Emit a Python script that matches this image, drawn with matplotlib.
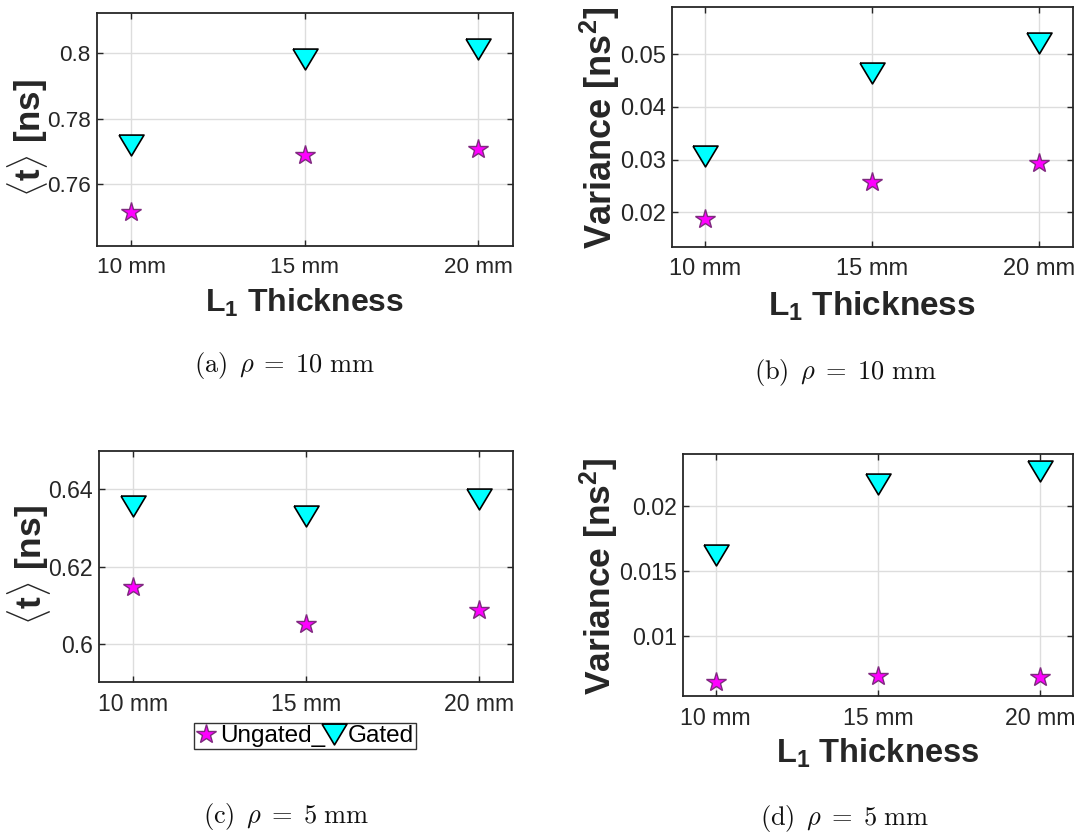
import matplotlib
matplotlib.use("Agg")
import matplotlib.pyplot as plt
from matplotlib.font_manager import FontProperties

plt.rcParams['font.family'] = ['Liberation Sans', 'DejaVu Sans']
plt.rcParams['mathtext.fontset'] = 'custom'
plt.rcParams['mathtext.rm'] = 'Liberation Sans'
plt.rcParams['mathtext.bf'] = 'Liberation Sans:bold'
plt.rcParams['mathtext.it'] = 'Liberation Sans:italic'

# ---------------- data ----------------
thickness = [10, 15, 20]
tick_labels = ['10 mm', '15 mm', '20 mm']

# (a) rho = 10 mm, mean time
a_ungated = [0.7515, 0.7689, 0.7709]
a_gated = [0.7719, 0.7982, 0.8012]
# (b) rho = 10 mm, variance
b_ungated = [0.0187, 0.0258, 0.0293]
b_gated = [0.0307, 0.0465, 0.0522]
# (c) rho = 5 mm, mean time
c_ungated = [0.6148, 0.6051, 0.6087]
c_gated = [0.6358, 0.6331, 0.6375]
# (d) rho = 5 mm, variance
d_ungated = [0.00643, 0.00694, 0.00686]
d_gated = [0.01623, 0.0217, 0.0227]

a_yticks = [0.76, 0.78, 0.80]
a_yticklabels = ['0.76', '0.78', '0.8']
b_yticks = [0.02, 0.03, 0.04, 0.05]
b_yticklabels = ['0.02', '0.03', '0.04', '0.05']
c_yticks = [0.60, 0.62, 0.64]
c_yticklabels = ['0.6', '0.62', '0.64']
d_yticks = [0.01, 0.015, 0.02]
d_yticklabels = ['0.01', '0.015', '0.02']

captions = [r'$\mathrm{(a)}\ \,\rho\;=\;10\ \mathrm{mm}$',
            r'$\mathrm{(b)}\ \,\rho\;=\;10\ \mathrm{mm}$',
            r'$\mathrm{(c)}\ \,\rho\;=\;5\ \mathrm{mm}$',
            r'$\mathrm{(d)}\ \,\rho\;=\;5\ \mathrm{mm}$']

legend_labels = ['Ungated_', 'Gated']

W, H = 1077, 832
fig = plt.figure(figsize=(W / 100, H / 100), dpi=100)


def ax_rect(l, t, r, b):
    return [l / W, 1 - b / H, (r - l) / W, (b - t) / H]


STAR_FC = '#FF00FF'
STAR_EC = '#7F2A7F'
TRI_FC = '#00FFFF'
AX_C = '#262626'
TRI = [(-1.2, 1.0), (1.2, 1.0), (0.0, -1.0), (-1.2, 1.0)]

panels = [
    dict(rect=ax_rect(96.8, 13.3, 513.1, 245.7), un=a_ungated, ga=a_gated,
         ylim=(0.7414, 0.812), yt=a_yticks, ytl=a_yticklabels,
         ylabel=r'$\langle$t$\rangle$ [ns]', xlabel=True, fs=16.2, xfs=23,
         ylx=27.6, yly=138, xly=311.5, cap=(285, 365)),
    dict(rect=ax_rect(671.8, 6.7, 1072.5, 246.7), un=b_ungated, ga=b_gated,
         ylim=(0.0135, 0.059), yt=b_yticks, ytl=b_yticklabels,
         ylabel=r'Variance [ns$^{\mathbf{2}}$]', xlabel=True, fs=17, xfs=24,
         ylx=600, yly=128, xly=316, cap=(845, 372)),
    dict(rect=ax_rect(98.8, 450.7, 513.1, 682.3), un=c_ungated, ga=c_gated,
         ylim=(0.59, 0.65), yt=c_yticks, ytl=c_yticklabels,
         ylabel=r'$\langle$t$\rangle$ [ns]', xlabel=False, fs=16.6, xfs=23.5,
         ylx=29.3, yly=565, xly=None, cap=(286, 817)),
    dict(rect=ax_rect(683.2, 454.3, 1072.5, 696), un=d_ungated, ga=d_gated,
         ylim=(0.00537, 0.024), yt=d_yticks, ytl=d_yticklabels,
         ylabel=r'Variance [ns$^{\mathbf{2}}$]', xlabel=True, fs=16.7, xfs=23.5,
         ylx=599, yly=576, xly=763, cap=(845, 818)),
]

for i, p in enumerate(panels):
    ax = fig.add_axes(p['rect'])
    h1, = ax.plot(thickness, p['un'], linestyle='none', marker='*', markersize=15,
                  markerfacecolor=STAR_FC, markeredgecolor=STAR_EC, markeredgewidth=1.0,
                  zorder=3)
    h2, = ax.plot(thickness, p['ga'], linestyle='none', marker=TRI, markersize=18,
                  markerfacecolor=TRI_FC, markeredgecolor='black', markeredgewidth=1.2,
                  zorder=3)
    ax.set_xlim(9, 21)
    ax.set_ylim(*p['ylim'])
    ax.set_xticks(thickness)
    ax.set_xticklabels(tick_labels)
    ax.set_yticks(p['yt'])
    ax.set_yticklabels(p['ytl'])
    ax.tick_params(direction='in', length=4, width=1.0, colors=AX_C,
                   labelsize=p['fs'], top=True, right=True)
    ax.tick_params(axis='x', pad=8)
    ax.tick_params(axis='y', pad=4.5)
    for s in ax.spines.values():
        s.set_color(AX_C)
        s.set_linewidth(1.3)
    ax.grid(True, color='#DDDDDD', linewidth=1.0)
    ax.set_axisbelow(True)

    fig.text(p['ylx'] / W, 1 - p['yly'] / H, p['ylabel'], rotation=90,
             ha='center', va='center', fontsize=p['xfs'] + 2, fontweight='bold',
             color=AX_C)
    if p['xlabel']:
        fig.text(((p['rect'][0] + p['rect'][2] / 2)), 1 - p['xly'] / H,
                 r'L$_{\mathbf{1}}$ Thickness', ha='center', va='baseline',
                 fontsize=p['xfs'], fontweight='bold', color=AX_C)
    fp = FontProperties(size=19, math_fontfamily='cm')
    fig.text(p['cap'][0] / W, 1 - p['cap'][1] / H, captions[i], ha='center',
             va='center', fontproperties=fp, color='#111111')

    if i == 2:
        axw = 513.1 - 98.8
        leg = ax.legend([h1, h2], legend_labels, ncol=2, loc='center',
                        bbox_to_anchor=((305.3 - 98.8) / axw, (682.3 - 736) / 231.6),
                        frameon=True, fancybox=False, fontsize=17.5,
                        handlelength=0.75, handletextpad=0.2, columnspacing=0.0,
                        borderpad=0.1, borderaxespad=0, markerscale=1.0)
        leg.get_frame().set_edgecolor('black')
        leg.get_frame().set_linewidth(1.0)

fig.savefig('out.png', dpi=100)
